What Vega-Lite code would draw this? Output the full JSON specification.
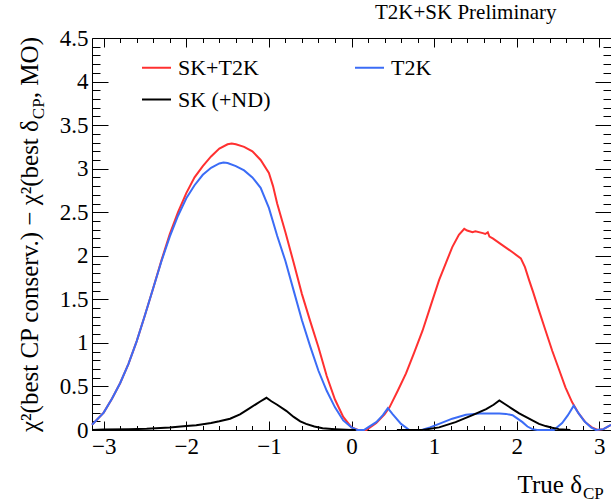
{
  "$schema": "https://vega.github.io/schema/vega-lite/v6.json",
  "width": 519,
  "height": 392,
  "autosize": {"type": "none"},
  "padding": {"left": 92, "top": 38, "right": 0, "bottom": 74},
  "background": "white",
  "config": {
    "view": {"stroke": "black", "strokeWidth": 1},
    "axis": {"domain": false, "grid": false, "labelFont": "Liberation Serif", "labelFontSize": 23, "labelColor": "black", "tickColor": "black", "tickWidth": 1, "title": null},
    "legend": {"labelFont": "Liberation Serif", "labelFontSize": 22, "labelColor": "black"}
  },
  "data": {"values": [
    {"s":"SK+T2K","g":"r","x":-3.1416,"y":0.06},{"s":"SK+T2K","g":"r","x":-3.0,"y":0.2},{"s":"SK+T2K","g":"r","x":-2.9,"y":0.36},{"s":"SK+T2K","g":"r","x":-2.8,"y":0.54},{"s":"SK+T2K","g":"r","x":-2.7,"y":0.76},{"s":"SK+T2K","g":"r","x":-2.6,"y":1.02},{"s":"SK+T2K","g":"r","x":-2.5,"y":1.32},{"s":"SK+T2K","g":"r","x":-2.4,"y":1.63},{"s":"SK+T2K","g":"r","x":-2.3,"y":1.95},{"s":"SK+T2K","g":"r","x":-2.2,"y":2.25},{"s":"SK+T2K","g":"r","x":-2.1,"y":2.5},{"s":"SK+T2K","g":"r","x":-2.0,"y":2.72},{"s":"SK+T2K","g":"r","x":-1.9,"y":2.9},{"s":"SK+T2K","g":"r","x":-1.8,"y":3.03},{"s":"SK+T2K","g":"r","x":-1.7,"y":3.14},{"s":"SK+T2K","g":"r","x":-1.6,"y":3.23},{"s":"SK+T2K","g":"r","x":-1.5,"y":3.28},{"s":"SK+T2K","g":"r","x":-1.45,"y":3.29},{"s":"SK+T2K","g":"r","x":-1.4,"y":3.28},{"s":"SK+T2K","g":"r","x":-1.3,"y":3.25},{"s":"SK+T2K","g":"r","x":-1.2,"y":3.2},{"s":"SK+T2K","g":"r","x":-1.1,"y":3.1},{"s":"SK+T2K","g":"r","x":-1.0,"y":2.95},{"s":"SK+T2K","g":"r","x":-0.95,"y":2.8},{"s":"SK+T2K","g":"r","x":-0.9,"y":2.6},{"s":"SK+T2K","g":"r","x":-0.8,"y":2.27},{"s":"SK+T2K","g":"r","x":-0.7,"y":1.92},{"s":"SK+T2K","g":"r","x":-0.6,"y":1.56},{"s":"SK+T2K","g":"r","x":-0.5,"y":1.25},{"s":"SK+T2K","g":"r","x":-0.4,"y":0.95},{"s":"SK+T2K","g":"r","x":-0.3,"y":0.62},{"s":"SK+T2K","g":"r","x":-0.2,"y":0.35},{"s":"SK+T2K","g":"r","x":-0.1,"y":0.15},{"s":"SK+T2K","g":"r","x":0.0,"y":0.03},{"s":"SK+T2K","g":"r","x":0.08,"y":0.0},{"s":"SK+T2K","g":"r","x":0.18,"y":0.0},{"s":"SK+T2K","g":"r","x":0.3,"y":0.08},{"s":"SK+T2K","g":"r","x":0.4,"y":0.18},{"s":"SK+T2K","g":"r","x":0.46,"y":0.26},{"s":"SK+T2K","g":"r","x":0.56,"y":0.45},{"s":"SK+T2K","g":"r","x":0.66,"y":0.65},{"s":"SK+T2K","g":"r","x":0.76,"y":0.89},{"s":"SK+T2K","g":"r","x":0.86,"y":1.14},{"s":"SK+T2K","g":"r","x":0.96,"y":1.43},{"s":"SK+T2K","g":"r","x":1.06,"y":1.72},{"s":"SK+T2K","g":"r","x":1.14,"y":1.91},{"s":"SK+T2K","g":"r","x":1.22,"y":2.1},{"s":"SK+T2K","g":"r","x":1.3,"y":2.24},{"s":"SK+T2K","g":"r","x":1.365,"y":2.31},{"s":"SK+T2K","g":"r","x":1.4,"y":2.29},{"s":"SK+T2K","g":"r","x":1.465,"y":2.27},{"s":"SK+T2K","g":"r","x":1.5,"y":2.28},{"s":"SK+T2K","g":"r","x":1.59,"y":2.26},{"s":"SK+T2K","g":"r","x":1.62,"y":2.25},{"s":"SK+T2K","g":"r","x":1.65,"y":2.27},{"s":"SK+T2K","g":"r","x":1.67,"y":2.22},{"s":"SK+T2K","g":"r","x":1.71,"y":2.2},{"s":"SK+T2K","g":"r","x":1.83,"y":2.12},{"s":"SK+T2K","g":"r","x":1.95,"y":2.04},{"s":"SK+T2K","g":"r","x":2.05,"y":1.97},{"s":"SK+T2K","g":"r","x":2.1,"y":1.87},{"s":"SK+T2K","g":"r","x":2.15,"y":1.72},{"s":"SK+T2K","g":"r","x":2.2,"y":1.58},{"s":"SK+T2K","g":"r","x":2.27,"y":1.37},{"s":"SK+T2K","g":"r","x":2.35,"y":1.14},{"s":"SK+T2K","g":"r","x":2.43,"y":0.91},{"s":"SK+T2K","g":"r","x":2.51,"y":0.7},{"s":"SK+T2K","g":"r","x":2.59,"y":0.49},{"s":"SK+T2K","g":"r","x":2.67,"y":0.32},{"s":"SK+T2K","g":"r","x":2.75,"y":0.19},{"s":"SK+T2K","g":"r","x":2.83,"y":0.09},{"s":"SK+T2K","g":"r","x":2.91,"y":0.03},{"s":"SK+T2K","g":"r","x":2.98,"y":0.0},{"s":"SK+T2K","g":"r","x":3.05,"y":0.01},{"s":"SK+T2K","g":"r","x":3.1416,"y":0.06},
    {"s":"T2K","g":"b","x":-3.1416,"y":0.06},{"s":"T2K","g":"b","x":-3.0,"y":0.2},{"s":"T2K","g":"b","x":-2.9,"y":0.36},{"s":"T2K","g":"b","x":-2.8,"y":0.54},{"s":"T2K","g":"b","x":-2.7,"y":0.76},{"s":"T2K","g":"b","x":-2.6,"y":1.02},{"s":"T2K","g":"b","x":-2.5,"y":1.32},{"s":"T2K","g":"b","x":-2.4,"y":1.63},{"s":"T2K","g":"b","x":-2.3,"y":1.94},{"s":"T2K","g":"b","x":-2.2,"y":2.22},{"s":"T2K","g":"b","x":-2.1,"y":2.46},{"s":"T2K","g":"b","x":-2.0,"y":2.66},{"s":"T2K","g":"b","x":-1.9,"y":2.81},{"s":"T2K","g":"b","x":-1.8,"y":2.93},{"s":"T2K","g":"b","x":-1.7,"y":3.01},{"s":"T2K","g":"b","x":-1.6,"y":3.06},{"s":"T2K","g":"b","x":-1.55,"y":3.07},{"s":"T2K","g":"b","x":-1.5,"y":3.065},{"s":"T2K","g":"b","x":-1.4,"y":3.03},{"s":"T2K","g":"b","x":-1.3,"y":2.98},{"s":"T2K","g":"b","x":-1.2,"y":2.9},{"s":"T2K","g":"b","x":-1.1,"y":2.78},{"s":"T2K","g":"b","x":-1.0,"y":2.55},{"s":"T2K","g":"b","x":-0.9,"y":2.23},{"s":"T2K","g":"b","x":-0.8,"y":1.94},{"s":"T2K","g":"b","x":-0.7,"y":1.6},{"s":"T2K","g":"b","x":-0.6,"y":1.26},{"s":"T2K","g":"b","x":-0.5,"y":0.96},{"s":"T2K","g":"b","x":-0.4,"y":0.68},{"s":"T2K","g":"b","x":-0.3,"y":0.45},{"s":"T2K","g":"b","x":-0.2,"y":0.26},{"s":"T2K","g":"b","x":-0.1,"y":0.11},{"s":"T2K","g":"b","x":0.0,"y":0.03},{"s":"T2K","g":"b","x":0.07,"y":0.0},{"s":"T2K","g":"b","x":0.15,"y":0.0},{"s":"T2K","g":"b","x":0.2,"y":0.03},{"s":"T2K","g":"b","x":0.3,"y":0.09},{"s":"T2K","g":"b","x":0.38,"y":0.17},{"s":"T2K","g":"b","x":0.44,"y":0.25},{"s":"T2K","g":"b","x":0.5,"y":0.18},{"s":"T2K","g":"b","x":0.6,"y":0.07},{"s":"T2K","g":"b","x":0.7,"y":0.0},{"s":"T2K","g":"b","x":0.85,"y":0.0},{"s":"T2K","g":"b","x":0.95,"y":0.03},{"s":"T2K","g":"b","x":1.06,"y":0.07},{"s":"T2K","g":"b","x":1.22,"y":0.13},{"s":"T2K","g":"b","x":1.385,"y":0.175},{"s":"T2K","g":"b","x":1.55,"y":0.19},{"s":"T2K","g":"b","x":1.79,"y":0.19},{"s":"T2K","g":"b","x":1.87,"y":0.185},{"s":"T2K","g":"b","x":1.95,"y":0.17},{"s":"T2K","g":"b","x":2.01,"y":0.13},{"s":"T2K","g":"b","x":2.07,"y":0.09},{"s":"T2K","g":"b","x":2.13,"y":0.04},{"s":"T2K","g":"b","x":2.19,"y":0.01},{"s":"T2K","g":"b","x":2.25,"y":0.0},{"s":"T2K","g":"b","x":2.45,"y":0.0},{"s":"T2K","g":"b","x":2.55,"y":0.08},{"s":"T2K","g":"b","x":2.62,"y":0.17},{"s":"T2K","g":"b","x":2.69,"y":0.28},{"s":"T2K","g":"b","x":2.75,"y":0.19},{"s":"T2K","g":"b","x":2.82,"y":0.1},{"s":"T2K","g":"b","x":2.9,"y":0.03},{"s":"T2K","g":"b","x":2.96,"y":0.0},{"s":"T2K","g":"b","x":3.05,"y":0.01},{"s":"T2K","g":"b","x":3.1416,"y":0.06},
    {"s":"SK (+ND)","g":"k1","x":-3.1416,"y":0.0},{"s":"SK (+ND)","g":"k1","x":-3.0,"y":0.005},{"s":"SK (+ND)","g":"k1","x":-2.7,"y":0.01},{"s":"SK (+ND)","g":"k1","x":-2.48,"y":0.015},{"s":"SK (+ND)","g":"k1","x":-2.2,"y":0.03},{"s":"SK (+ND)","g":"k1","x":-2.0,"y":0.045},{"s":"SK (+ND)","g":"k1","x":-1.88,"y":0.055},{"s":"SK (+ND)","g":"k1","x":-1.7,"y":0.08},{"s":"SK (+ND)","g":"k1","x":-1.6,"y":0.1},{"s":"SK (+ND)","g":"k1","x":-1.47,"y":0.13},{"s":"SK (+ND)","g":"k1","x":-1.35,"y":0.18},{"s":"SK (+ND)","g":"k1","x":-1.25,"y":0.24},{"s":"SK (+ND)","g":"k1","x":-1.15,"y":0.3},{"s":"SK (+ND)","g":"k1","x":-1.1,"y":0.33},{"s":"SK (+ND)","g":"k1","x":-1.03,"y":0.37},{"s":"SK (+ND)","g":"k1","x":-0.97,"y":0.33},{"s":"SK (+ND)","g":"k1","x":-0.9,"y":0.29},{"s":"SK (+ND)","g":"k1","x":-0.79,"y":0.22},{"s":"SK (+ND)","g":"k1","x":-0.7,"y":0.15},{"s":"SK (+ND)","g":"k1","x":-0.62,"y":0.1},{"s":"SK (+ND)","g":"k1","x":-0.55,"y":0.07},{"s":"SK (+ND)","g":"k1","x":-0.45,"y":0.04},{"s":"SK (+ND)","g":"k1","x":-0.35,"y":0.02},{"s":"SK (+ND)","g":"k1","x":-0.2,"y":0.01},{"s":"SK (+ND)","g":"k1","x":0.0,"y":0.0},{"s":"SK (+ND)","g":"k1","x":0.05,"y":0.0},
    {"s":"SK (+ND)","g":"k2","x":0.55,"y":0.0},{"s":"SK (+ND)","g":"k2","x":0.86,"y":0.0},{"s":"SK (+ND)","g":"k2","x":1.06,"y":0.03},{"s":"SK (+ND)","g":"k2","x":1.26,"y":0.09},{"s":"SK (+ND)","g":"k2","x":1.465,"y":0.17},{"s":"SK (+ND)","g":"k2","x":1.63,"y":0.24},{"s":"SK (+ND)","g":"k2","x":1.72,"y":0.29},{"s":"SK (+ND)","g":"k2","x":1.79,"y":0.34},{"s":"SK (+ND)","g":"k2","x":1.87,"y":0.29},{"s":"SK (+ND)","g":"k2","x":1.95,"y":0.24},{"s":"SK (+ND)","g":"k2","x":2.03,"y":0.19},{"s":"SK (+ND)","g":"k2","x":2.11,"y":0.15},{"s":"SK (+ND)","g":"k2","x":2.19,"y":0.11},{"s":"SK (+ND)","g":"k2","x":2.27,"y":0.07},{"s":"SK (+ND)","g":"k2","x":2.35,"y":0.045},{"s":"SK (+ND)","g":"k2","x":2.43,"y":0.025},{"s":"SK (+ND)","g":"k2","x":2.51,"y":0.01},{"s":"SK (+ND)","g":"k2","x":2.65,"y":0.0}
  ]},
  "layer": [
    {
      "mark": {"type": "line", "strokeWidth": 2},
      "encoding": {
        "x": {"field": "x", "type": "quantitative", "scale": {"domain": [-3.14159, 3.14159], "nice": false, "zero": false},
              "axis": {"orient": "bottom", "values": [-3, -2, -1, 0, 1, 2, 3], "tickSize": -9, "labelPadding": 14, "format": "d"}},
        "y": {"field": "y", "type": "quantitative", "scale": {"domain": [0, 4.5], "nice": false, "zero": false},
              "axis": {"orient": "left", "values": [0, 0.5, 1, 1.5, 2, 2.5, 3, 3.5, 4, 4.5], "tickSize": -16, "labelPadding": 20, "format": "~g"}},
        "color": {"field": "s", "type": "nominal",
                  "scale": {"domain": ["SK+T2K", "T2K", "SK (+ND)"], "range": ["#ff3030", "#3b6cf6", "#000000"]},
                  "legend": {"orient": "none", "legendX": 49, "legendY": 14, "columns": 2, "direction": "horizontal", "title": null,
                             "symbolType": "stroke", "symbolSize": 841, "symbolStrokeWidth": 2, "labelFont": "Liberation Serif",
                             "labelFontSize": 22, "labelColor": "black", "labelOffset": 6, "columnPadding": 80, "rowPadding": 5,
                             "padding": 0, "labelLimit": 300}},
        "detail": {"field": "g"}
      }
    },
    {
      "mark": {"type": "line", "opacity": 0},
      "encoding": {
        "x": {"field": "x", "type": "quantitative", "axis": {"orient": "bottom", "values": [-2.8, -2.6, -2.4, -2.2, -1.8, -1.6, -1.4, -1.2, -0.8, -0.6, -0.4, -0.2, 0.2, 0.4, 0.6, 0.8, 1.2, 1.4, 1.6, 1.8, 2.2, 2.4, 2.6, 2.8], "tickSize": -4.5, "labels": false}},
        "y": {"field": "y", "type": "quantitative", "axis": {"orient": "left", "values": [0.1, 0.2, 0.3, 0.4, 0.6, 0.7, 0.8, 0.9, 1.1, 1.2, 1.3, 1.4, 1.6, 1.7, 1.8, 1.9, 2.1, 2.2, 2.3, 2.4, 2.6, 2.7, 2.8, 2.9, 3.1, 3.2, 3.3, 3.4, 3.6, 3.7, 3.8, 3.9, 4.1, 4.2, 4.3, 4.4], "tickSize": -8, "labels": false}},
        "detail": {"field": "g"}
      }
    },
    {
      "mark": {"type": "line", "opacity": 0},
      "encoding": {
        "x": {"field": "x", "type": "quantitative", "axis": {"orient": "top", "values": [-3, -2, -1, 0, 1, 2, 3], "tickSize": -9, "labels": false}},
        "y": {"field": "y", "type": "quantitative", "axis": {"orient": "right", "values": [0, 0.5, 1, 1.5, 2, 2.5, 3, 3.5, 4, 4.5], "tickSize": -16, "labels": false}},
        "detail": {"field": "g"}
      }
    },
    {
      "mark": {"type": "line", "opacity": 0},
      "encoding": {
        "x": {"field": "x", "type": "quantitative", "axis": {"orient": "top", "values": [-2.8, -2.6, -2.4, -2.2, -1.8, -1.6, -1.4, -1.2, -0.8, -0.6, -0.4, -0.2, 0.2, 0.4, 0.6, 0.8, 1.2, 1.4, 1.6, 1.8, 2.2, 2.4, 2.6, 2.8], "tickSize": -4.5, "labels": false}},
        "y": {"field": "y", "type": "quantitative", "axis": {"orient": "right", "values": [0.1, 0.2, 0.3, 0.4, 0.6, 0.7, 0.8, 0.9, 1.1, 1.2, 1.3, 1.4, 1.6, 1.7, 1.8, 1.9, 2.1, 2.2, 2.3, 2.4, 2.6, 2.7, 2.8, 2.9, 3.1, 3.2, 3.3, 3.4, 3.6, 3.7, 3.8, 3.9, 4.1, 4.2, 4.3, 4.4], "tickSize": -8, "labels": false}},
        "detail": {"field": "g"}
      }
    },
    {
      "data": {"values": [{"t": "T2K+SK Preliminary"}]},
      "mark": {"type": "text", "align": "left", "baseline": "alphabetic", "font": "Liberation Serif", "fontSize": 21, "color": "black"},
      "encoding": {
        "text": {"field": "t"},
        "x": {"datum": 0.2845, "type": "quantitative", "axis": null},
        "y": {"datum": 4.718, "type": "quantitative", "axis": null}
      }
    },
    {
      "data": {"values": [{"t": "True δ"}]},
      "mark": {"type": "text", "align": "right", "baseline": "alphabetic", "font": "Liberation Serif", "fontSize": 25, "color": "black"},
      "encoding": {
        "text": {"field": "t"},
        "x": {"datum": 2.79, "type": "quantitative", "axis": null},
        "y": {"datum": -0.718, "type": "quantitative", "axis": null}
      }
    },
    {
      "data": {"values": [{"t": "CP"}]},
      "mark": {"type": "text", "align": "left", "baseline": "alphabetic", "font": "Liberation Serif", "fontSize": 17, "color": "black", "dx": 1, "dy": 6},
      "encoding": {
        "text": {"field": "t"},
        "x": {"datum": 2.79, "type": "quantitative", "axis": null},
        "y": {"datum": -0.718, "type": "quantitative", "axis": null}
      }
    },
    {
      "data": {"values": [{"t": "χ²(best CP conserv.) − χ²(best δ"}]},
      "mark": {"type": "text", "align": "right", "baseline": "alphabetic", "angle": 270, "font": "Liberation Serif", "fontSize": 25, "color": "black"},
      "encoding": {
        "text": {"field": "t"},
        "x": {"datum": -3.792, "type": "quantitative", "axis": null},
        "y": {"datum": 3.557, "type": "quantitative", "axis": null}
      }
    },
    {
      "data": {"values": [{"t": "CP"}]},
      "mark": {"type": "text", "align": "left", "baseline": "alphabetic", "angle": 270, "font": "Liberation Serif", "fontSize": 17, "color": "black", "dx": 1, "dy": 6},
      "encoding": {
        "text": {"field": "t"},
        "x": {"datum": -3.792, "type": "quantitative", "axis": null},
        "y": {"datum": 3.557, "type": "quantitative", "axis": null}
      }
    },
    {
      "data": {"values": [{"t": ", MO)"}]},
      "mark": {"type": "text", "align": "left", "baseline": "alphabetic", "angle": 270, "font": "Liberation Serif", "fontSize": 25, "color": "black", "dx": 22},
      "encoding": {
        "text": {"field": "t"},
        "x": {"datum": -3.792, "type": "quantitative", "axis": null},
        "y": {"datum": 3.557, "type": "quantitative", "axis": null}
      }
    }
  ],
  "resolve": {"axis": {"x": "independent", "y": "independent"}}
}
